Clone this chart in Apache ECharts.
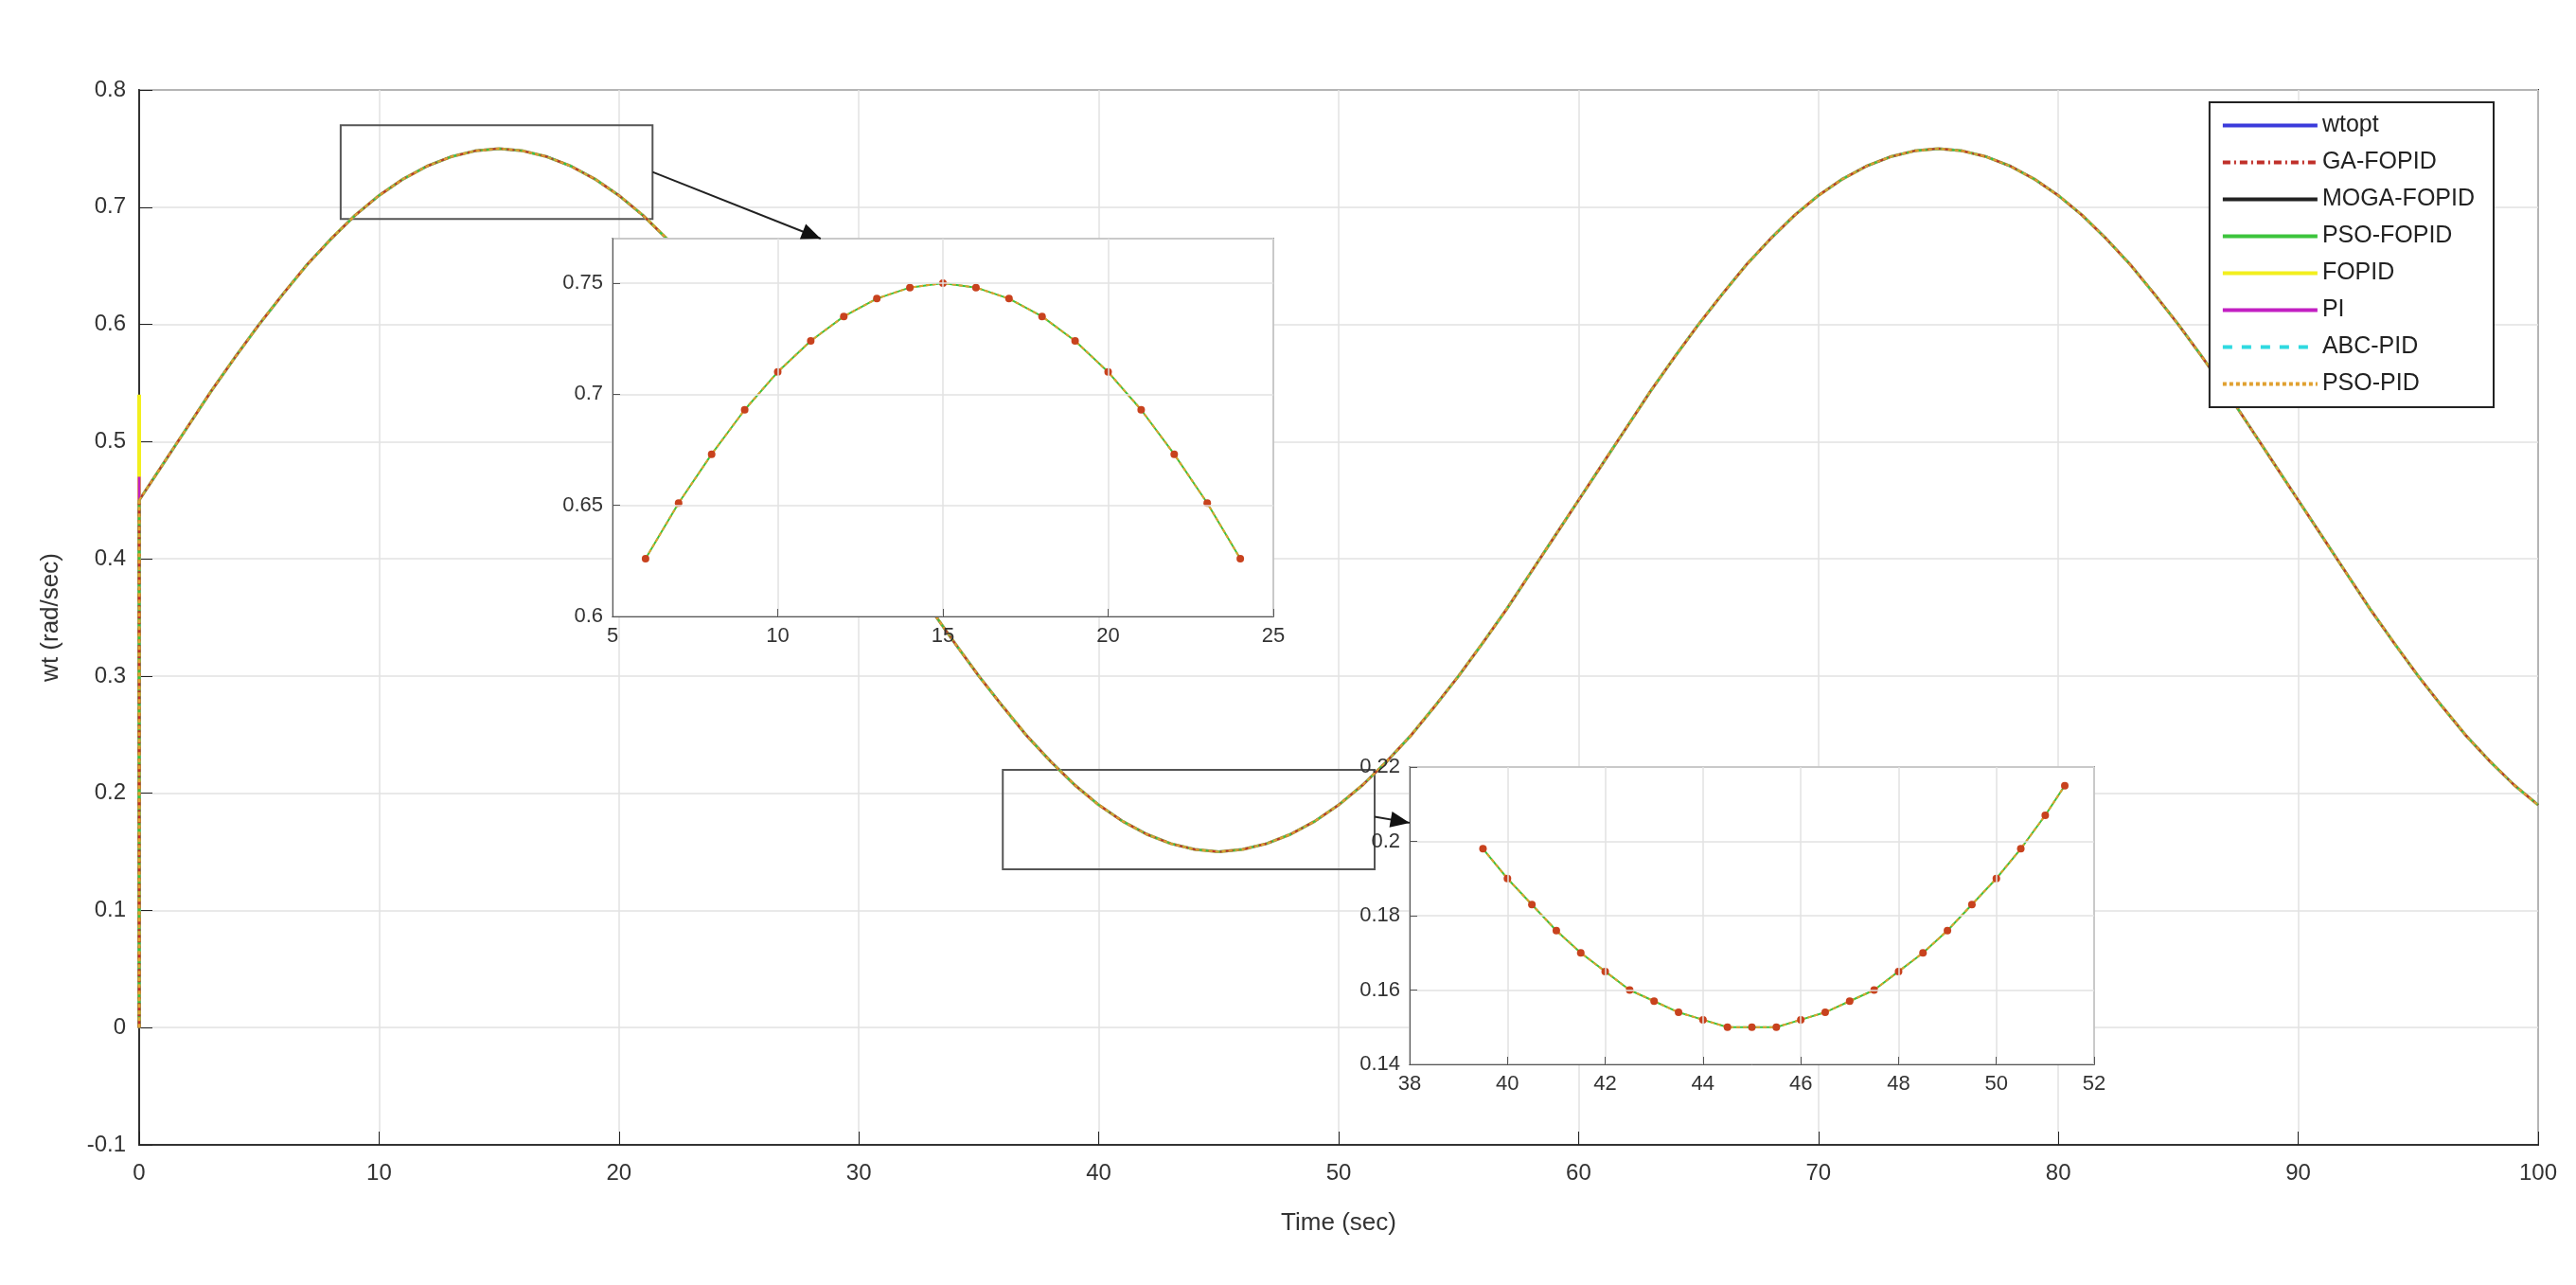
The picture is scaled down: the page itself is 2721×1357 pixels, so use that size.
<!DOCTYPE html>
<html><head><meta charset="utf-8">
<script src="https://cdn.jsdelivr.net/npm/echarts@6/dist/echarts.min.js"></script>
<style>html,body{margin:0;background:#fff}#c{width:2721px;height:1357px}</style>
</head><body><div id="c"></div>
<script>
// main response (all controllers overlap), sampled every 1 s
const timeMain = [0,1,2,3,4,5,6,7,8,9,10,11,12,13,14,15,16,17,18,19,20,21,22,23,24,25,26,27,28,29,30,31,32,33,34,35,36,37,38,39,40,41,42,43,44,45,46,47,48,49,50,51,52,53,54,55,56,57,58,59,60,61,62,63,64,65,66,67,68,69,70,71,72,73,74,75,76,77,78,79,80,81,82,83,84,85,86,87,88,89,90,91,92,93,94,95,96,97,98,99,100];
const wtMain = [0.450,0.481,0.512,0.543,0.572,0.600,0.626,0.651,0.673,0.693,0.710,0.724,0.735,0.743,0.748,0.750,
 0.748,0.743,0.735,0.724,0.710,0.693,0.673,0.651,0.626,0.600,0.572,0.543,0.512,0.481,0.450,
 0.419,0.388,0.357,0.328,0.300,0.274,0.249,0.227,0.207,0.190,0.176,0.165,0.157,0.152,0.150,
 0.152,0.157,0.165,0.176,0.190,0.207,0.227,0.249,0.274,0.300,0.328,0.357,0.388,0.419,0.450,
 0.481,0.512,0.543,0.572,0.600,0.626,0.651,0.673,0.693,0.710,0.724,0.735,0.743,0.748,0.750,
 0.748,0.743,0.735,0.724,0.710,0.693,0.673,0.651,0.626,0.600,0.572,0.543,0.512,0.481,0.450,
 0.419,0.388,0.357,0.328,0.300,0.274,0.249,0.227,0.207,0.190];
// initial jump at t=0 for each controller (peak value)
const seriesNames = ['wtopt','GA-FOPID','MOGA-FOPID','PSO-FOPID','FOPID','PI','ABC-PID','PSO-PID'];
const startPeak = [0.45,0.45,0.45,0.45,0.54,0.47,0.45,0.45];
// inset 1 (zoom 6–24 s)
const timeZoom1 = [6,7,8,9,10,11,12,13,14,15,16,17,18,19,20,21,22,23,24];
const wtZoom1 = [0.626,0.651,0.673,0.693,0.710,0.724,0.735,0.743,0.748,0.750,0.748,0.743,0.735,0.724,0.710,0.693,0.673,0.651,0.626];
// inset 2 (zoom 39.5–51.4 s)
const timeZoom2 = [39.5,40,40.5,41,41.5,42,42.5,43,43.5,44,44.5,45,45.5,46,46.5,47,47.5,48,48.5,49,49.5,50,50.5,51,51.4];
const wtZoom2 = [0.198,0.190,0.183,0.176,0.170,0.165,0.160,0.157,0.154,0.152,0.150,0.150,0.150,0.152,0.154,0.157,0.160,0.165,0.170,0.176,0.183,0.190,0.198,0.207,0.215];
// zoom boxes drawn on the main plot
const box1 = [[8.4,0.69],[21.4,0.77]];
const box2 = [[36,0.135],[51.5,0.22]];

const F = 'Liberation Sans, Arial, sans-serif';
const styles = {
 'wtopt':{color:'#3b3bdb',type:'solid',w:3},
 'GA-FOPID':{color:'#c0302a',type:[8,4,2,4],w:2},
 'MOGA-FOPID':{color:'#222',type:'solid',w:2},
 'PSO-FOPID':{color:'#3cc43c',type:'solid',w:2},
 'FOPID':{color:'#f2ef1e',type:'solid',w:3},
 'PI':{color:'#c21fc2',type:'solid',w:2},
 'ABC-PID':{color:'#2fd9e0',type:[10,10],w:2},
 'PSO-PID':{color:'#e0a030',type:[4,3],w:2}
};
const drawOrder = ['wtopt','MOGA-FOPID','FOPID','PI','ABC-PID','PSO-FOPID','GA-FOPID','PSO-PID'];
const mainData = timeMain.map((t,i)=>[t,wtMain[i]]);
const series = [];
drawOrder.forEach(n=>{
  const s = styles[n]; const k = seriesNames.indexOf(n);
  series.push({name:n,type:'line',xAxisIndex:0,yAxisIndex:0,data:mainData,smooth:false,symbol:'none',
    lineStyle:{color:s.color,type:s.type,width:s.w},itemStyle:{color:s.color},z:2});
  series.push({name:n+'_start',type:'line',xAxisIndex:0,yAxisIndex:0,data:[[0,0],[0,startPeak[k]],[0,wtMain[0]]],symbol:'none',
    lineStyle:{color:s.color,type:s.type,width:s.w+1},z:2,silent:true});
});
const boxStyle = {color:'rgba(0,0,0,0)',borderColor:'#555',borderWidth:2};
series.push({type:'line',xAxisIndex:0,yAxisIndex:0,data:[],markArea:{silent:true,itemStyle:boxStyle,data:[
  [{coord:box1[0]},{coord:box1[1]}],[{coord:box2[0]},{coord:box2[1]}]]}});
// insets
[[1,timeZoom1,wtZoom1],[2,timeZoom2,wtZoom2]].forEach(([g,tx,ty])=>{
  const d = tx.map((t,i)=>[t,ty[i]]);
  series.push({type:'line',xAxisIndex:g,yAxisIndex:g,data:d,symbol:'none',lineStyle:{color:'#3cc43c',width:2},z:10});
  series.push({type:'line',xAxisIndex:g,yAxisIndex:g,data:d,symbol:'circle',symbolSize:8,
    itemStyle:{color:'#c8421e'},lineStyle:{color:'#e0a030',width:2,type:[4,3]},z:11});
});
const axLbl = {fontFamily:F,color:'#333'};
const gridLine = {show:true,lineStyle:{color:'#e2e2e2',width:1.5}};
const option = {
 animation:false,
 grid:[
  {left:147,right:2721-2681,top:95,bottom:1357-1209,show:true,borderColor:'#333',borderWidth:2,backgroundColor:'#fff'},
  {left:647,width:698,top:252,height:399,show:true,borderColor:'#555',borderWidth:1.5,backgroundColor:'#fff',z:5},
  {left:1489,width:723,top:810,height:314,show:true,borderColor:'#555',borderWidth:1.5,backgroundColor:'#fff',z:5}
 ],
 xAxis:[
  {gridIndex:0,type:'value',min:0,max:100,interval:10,name:'Time (sec)',nameLocation:'middle',nameGap:70,
   nameTextStyle:{fontFamily:F,fontSize:26,color:'#333'},axisLabel:{...axLbl,fontSize:24,margin:18},
   axisTick:{inside:true,length:14,lineStyle:{color:'#222'}},axisLine:{onZero:false,lineStyle:{color:'#333',width:2}},splitLine:gridLine},
  {gridIndex:1,type:'value',min:5,max:25,interval:5,axisLabel:{...axLbl,fontSize:22,margin:10},axisTick:{inside:true,length:8},
   axisLine:{onZero:false,lineStyle:{color:'#555'}},splitLine:gridLine,z:12},
  {gridIndex:2,type:'value',min:38,max:52,interval:2,axisLabel:{...axLbl,fontSize:22,margin:10},axisTick:{inside:true,length:8},
   axisLine:{onZero:false,lineStyle:{color:'#555'}},splitLine:gridLine,z:12}
 ],
 yAxis:[
  {gridIndex:0,type:'value',min:-0.1,max:0.8,interval:0.1,name:'wt (rad/sec)',nameLocation:'middle',nameGap:80,
   nameTextStyle:{fontFamily:F,fontSize:26,color:'#333'},axisLabel:{...axLbl,fontSize:24,margin:14},
   axisTick:{inside:true,length:14,lineStyle:{color:'#222'}},axisLine:{onZero:false,lineStyle:{color:'#333',width:2}},splitLine:gridLine},
  {gridIndex:1,type:'value',min:0.6,max:0.77,interval:0.05,axisLabel:{...axLbl,fontSize:22,margin:10,showMaxLabel:false},
   axisTick:{inside:true,length:8},axisLine:{show:true,onZero:false,lineStyle:{color:'#555'}},splitLine:gridLine,z:12},
  {gridIndex:2,type:'value',min:0.14,max:0.22,interval:0.02,axisLabel:{...axLbl,fontSize:22,margin:10},
   axisTick:{inside:true,length:8},axisLine:{show:true,onZero:false,lineStyle:{color:'#555'}},splitLine:gridLine,z:12}
 ],
 legend:{data:seriesNames,orient:'vertical',right:2721-2634,top:108,backgroundColor:'#fff',borderColor:'#222',borderWidth:2,
  padding:[12,20,12,12],itemGap:14,itemWidth:100,itemHeight:20,itemStyle:{opacity:0},
  lineStyle:{width:4},textStyle:{fontFamily:F,fontSize:25,color:'#222'}},
 series
};
const chart = echarts.init(document.getElementById('c'));
chart.setOption(option);
// arrows from boxes to insets
function arrow(from,to){
  return {type:'line',shape:{x1:from[0],y1:from[1],x2:to[0],y2:to[1]},style:{stroke:'#222',lineWidth:2},z:20};
}
function head(from,to){
  const a=Math.atan2(to[1]-from[1],to[0]-from[0]),L=22,W=0.4;
  return {type:'polygon',shape:{points:[to,[to[0]-L*Math.cos(a-W),to[1]-L*Math.sin(a-W)],[to[0]-L*Math.cos(a+W),to[1]-L*Math.sin(a+W)]]},style:{fill:'#111'},z:21};
}
const a1f = chart.convertToPixel({gridIndex:0},[21.4,0.73]);
const a1t = chart.convertToPixel({gridIndex:1},[11.3,0.77]);
const a2f = chart.convertToPixel({gridIndex:0},[51.5,0.18]);
const a2t = chart.convertToPixel({gridIndex:2},[38,0.205]);
chart.setOption({graphic:[arrow(a1f,a1t),head(a1f,a1t),arrow(a2f,a2t),head(a2f,a2t)]});
</script></body></html>
